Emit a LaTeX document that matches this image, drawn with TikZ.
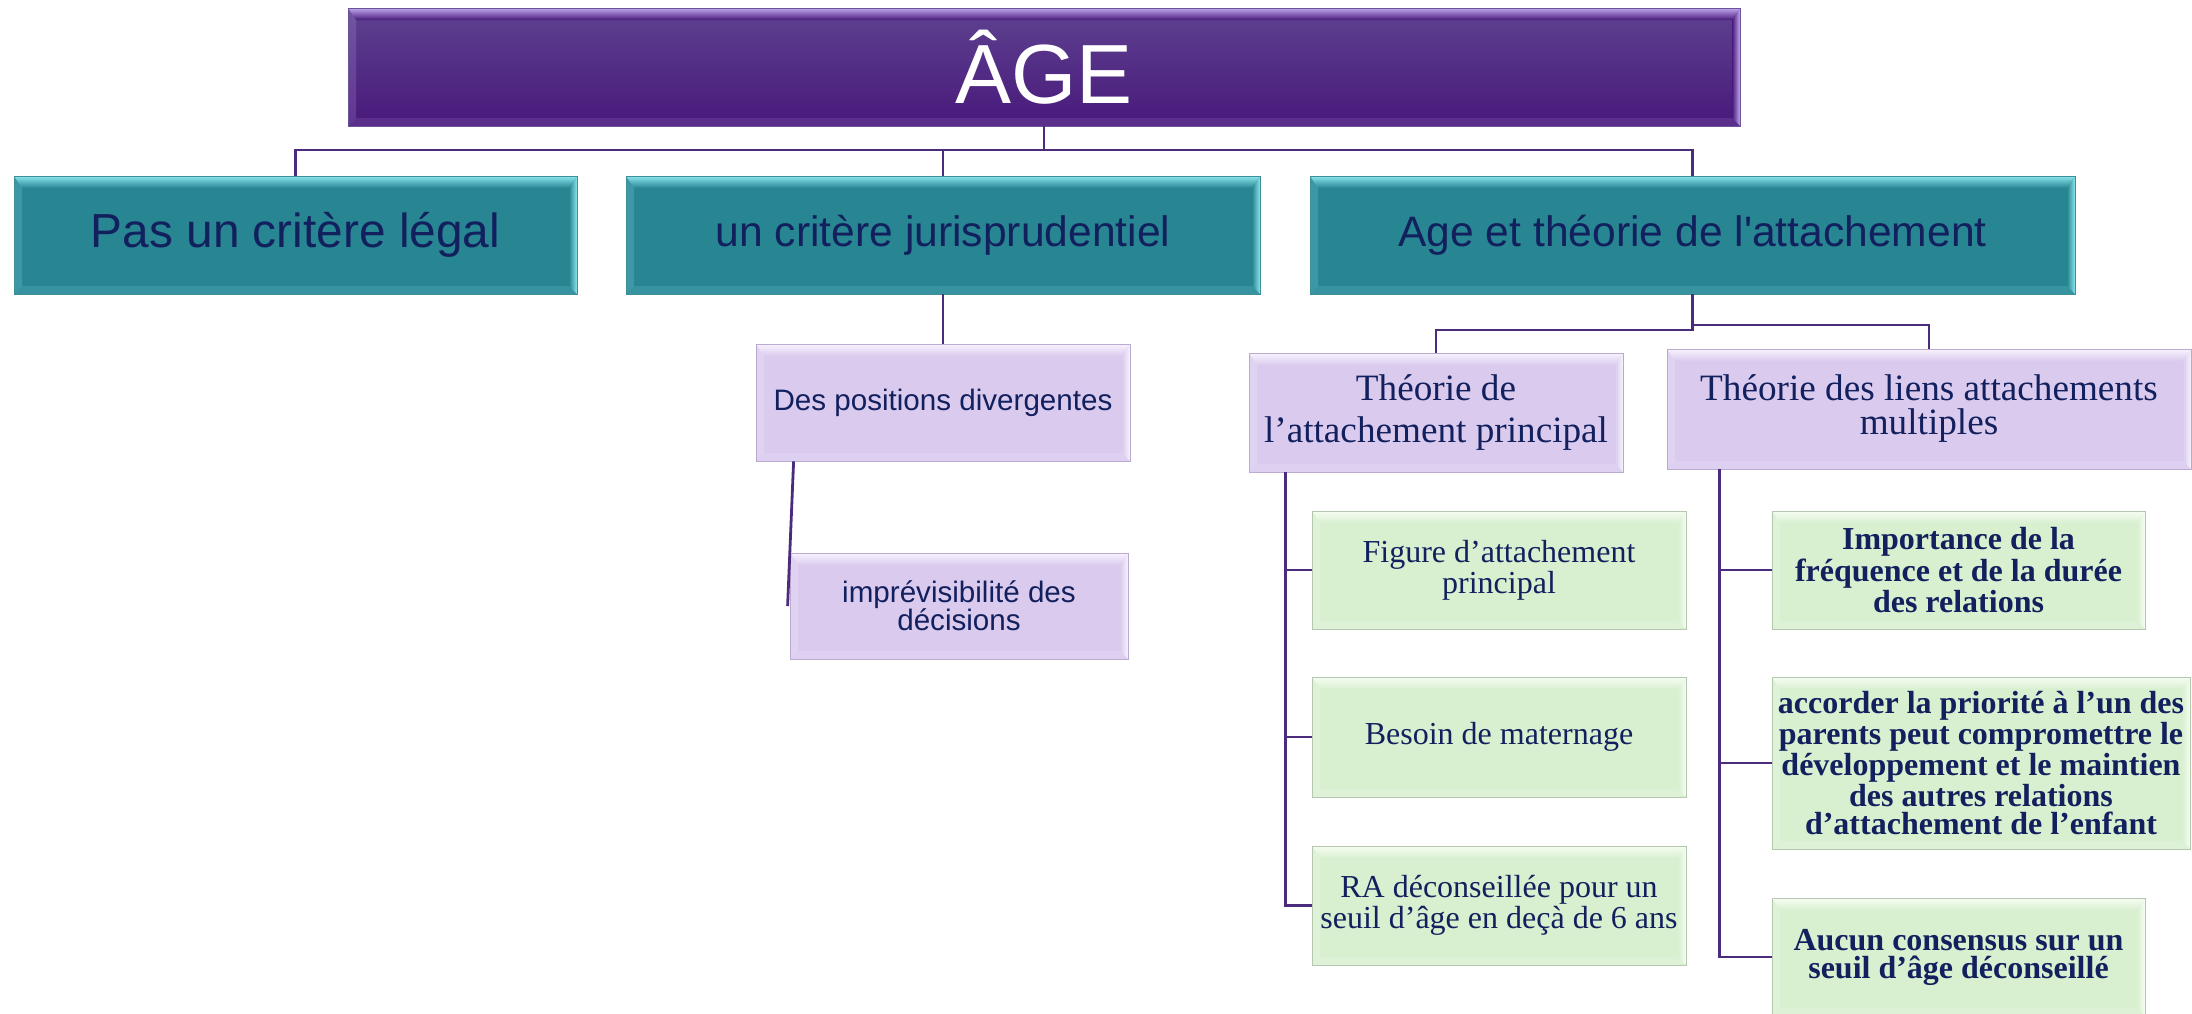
\documentclass[tikz,border=0pt]{standalone}
\usepackage{fontspec}
\setmainfont{Liberation Serif}
\setsansfont{Liberation Sans}
\definecolor{navy}{HTML}{12205E}
\definecolor{agedark}{HTML}{48197B}
\definecolor{agetop}{HTML}{5E428F}
\definecolor{agelight}{HTML}{C0A8EE}
\definecolor{ageline}{HTML}{6C5499}
\definecolor{critfill}{HTML}{288592}
\definecolor{critlight}{HTML}{8AE6EE}
\definecolor{critline}{HTML}{3F8F99}
\definecolor{lavfill}{HTML}{DACBEE}
\definecolor{lavlight}{HTML}{F8F3FE}
\definecolor{lavline}{HTML}{BBAACF}
\definecolor{leaffill}{HTML}{D8F0D0}
\definecolor{leaflight}{HTML}{F6FDF3}
\definecolor{leafline}{HTML}{B6C7AF}
\definecolor{linkcol}{HTML}{4B2C7C}
\begin{document}
\begin{tikzpicture}
    [
    x=0.5pt,y=-0.5pt,
    every node/.style={rectangle,inner sep=1pt,align=center,text=navy},
    bevel/.style 2 args={fill=#2,path picture={
        \path (path picture bounding box.north west) coordinate (pnw)
              (path picture bounding box.north east) coordinate (pne)
              (path picture bounding box.south west) coordinate (psw)
              (path picture bounding box.south east) coordinate (pse);
        \shade[top color=#1,bottom color=#2] (pnw) -- (pne) -- ([shift={(-4pt,-6pt)}]pne) -- ([shift={(4pt,-6pt)}]pnw) -- cycle;
        \fill[#1,opacity=0.2] (pnw) -- ([shift={(4pt,-6pt)}]pnw) -- ([shift={(4pt,4pt)}]psw) -- (psw) -- cycle;
        \shade[left color=#2,right color=#1] (pne) -- ([shift={(-4pt,-6pt)}]pne) -- ([shift={(-4pt,4pt)}]pse) -- (pse) -- cycle;
        \fill[#1,opacity=0.15] (psw) -- ([shift={(4pt,4pt)}]psw) -- ([shift={(-4pt,4pt)}]pse) -- (pse) -- cycle;
    }},
    agebox/.style={bevel={agelight}{agedark},top color=agetop,middle color=agedark,bottom color=agedark,draw=ageline,text=white,font=\sffamily\fontsize{42}{48}\selectfont},
    critbox/.style={bevel={critlight}{critfill},draw=critline,minimum height=59pt,font=\sffamily\fontsize{21.3}{25}\selectfont},
    posbox/.style={bevel={lavlight}{lavfill},draw=lavline,font=\sffamily\fontsize{14.8}{14}\selectfont},
    theobox/.style={bevel={lavlight}{lavfill},draw=lavline},
    leafbox/.style={bevel={leaflight}{leaffill},draw=leafline,minimum width=187pt,font=\fontsize{16}{14.5}\selectfont},
    link/.style={draw=linkcol,line width=1.4pt},
    ]
    \useasboundingbox (0,0) rectangle (2192,1013);
    % top
    \node[agebox,minimum width=696pt,minimum height=59pt] (age) at (1044,67) {ÂGE};
    \node[critbox,minimum width=281.5pt,font=\sffamily\fontsize{23.9}{28}\selectfont] (legal) at (295.5,235) {Pas un critère légal};
    \node[critbox,minimum width=317pt] (juris) at (943,235) {un critère jurisprudentiel};
    \node[critbox,minimum width=382.5pt] (attach) at (1692.5,235) {Age et théorie de l\textquotesingle attachement};
    % jurisprudence
    \node[posbox,minimum width=187pt,minimum height=58.5pt] (diverg) at (943,402.5) {Des positions divergentes};
    \node[posbox,minimum width=169pt,minimum height=53pt] (imprev) at (959,606) {imprévisibilité des\\décisions};
    % attachement
    \node[theobox,minimum width=187pt,minimum height=59.5pt,font=\fontsize{18.6}{21}\selectfont] (princ) at (1436,412.5) {Théorie de\\l’attachement principal};
    \node[theobox,minimum width=262pt,minimum height=60pt,font=\fontsize{18.6}{17}\selectfont] (multi) at (1929,409) {Théorie des liens attachements\\multiples};
    \node[leafbox,minimum height=59pt] (fig) at (1499,570) {Figure d’attachement\\principal};
    \node[leafbox,minimum height=60pt] (mat) at (1499,737) {Besoin de maternage};
    \node[leafbox,minimum height=59.5pt] (ra) at (1499,905.5) {RA déconseillée pour un\\seuil d’âge en deçà de 6 ans};
    \node[leafbox,minimum width=186.5pt,minimum height=59pt,font=\bfseries\fontsize{16}{14}\selectfont] (freq) at (1958.5,570) {Importance de la\\fréquence et de la durée\\des relations};
    \node[leafbox,minimum width=209pt,minimum height=86pt,font=\bfseries\fontsize{16}{14}\selectfont] (prio) at (1981,763) {accorder la priorité à l’un des\\parents peut compromettre le\\développement et le maintien\\des autres relations\\d’attachement de l’enfant};
    \node[leafbox,minimum width=186.5pt,minimum height=59pt,font=\bfseries\fontsize{16}{14}\selectfont] (cons) at (1958.5,957) {Aucun consensus sur un\\seuil d’âge déconseillé};
    % links
    \coordinate (bus) at (1044,150);
    \coordinate (forkl) at (1692.5,330);
    \coordinate (forkr) at (1692.5,325);
    \draw[link] (age.south) -- (bus);
    \draw[link] (legal.north) |- (bus) -| (attach.north);
    \draw[link] (bus) -| (juris.north);
    \draw[link] (juris.south) -- (diverg.north);
    \draw[link] ([xshift=19pt]diverg.south west) -- ([xshift=-1pt]imprev.west);
    \draw[link] (attach.south) -- (forkl) -| (princ.north);
    \draw[link] (forkr) -| (multi.north);
    \foreach \leaf in {fig,mat,ra}
        \draw[link] ([xshift=18.25pt]princ.south west) |- (\leaf.west);
    \foreach \leaf in {freq,prio,cons}
        \draw[link] ([xshift=26.5pt]multi.south west) |- (\leaf.west);
\end{tikzpicture}
\end{document}
